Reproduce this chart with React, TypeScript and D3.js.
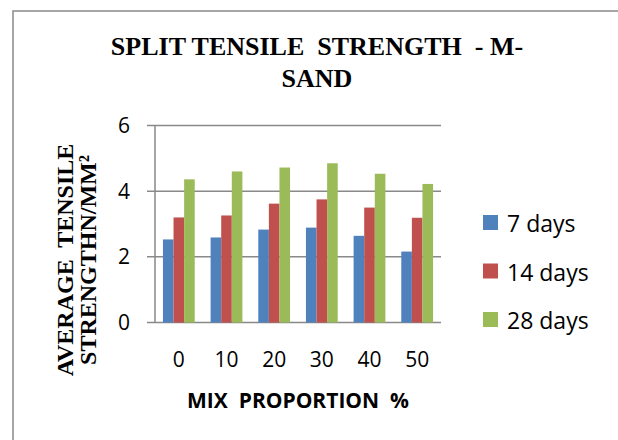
import React from "react";
import * as d3 from "d3";

const categories: string[] = ["0", "10", "20", "30", "40", "50"];
const seriesNames: string[] = ["7 days", "14 days", "28 days"];
const days7: number[] = [2.53, 2.59, 2.83, 2.89, 2.64, 2.16];
const days14: number[] = [3.2, 3.26, 3.62, 3.75, 3.5, 3.19];
const days28: number[] = [4.36, 4.6, 4.72, 4.85, 4.53, 4.22];
const yTicks: number[] = [0, 2, 4, 6];
const colors: string[] = ["#4F81BD", "#C0504D", "#9BBB59"];

const W = 618;
const H = 440;
const plot = { left: 155, right: 441, top: 125.5, bottom: 322.5 };

export default function App() {
  const series = [days7, days14, days28];
  const x0 = d3
    .scaleBand<string>()
    .domain(categories)
    .range([plot.left, plot.right])
    .paddingInner(1 / 3)
    .paddingOuter(1 / 6);
  const x1 = d3
    .scaleBand<string>()
    .domain(seriesNames)
    .range([0, x0.bandwidth()])
    .padding(0);
  const y = d3.scaleLinear().domain([0, 6]).range([plot.bottom, plot.top]);

  const sans = "'Open Sans', 'Liberation Sans', sans-serif";
  const serif = "'Liberation Serif', 'Times New Roman', serif";
  const grid = "#898989";

  return (
    <svg
      width={W}
      height={H}
      style={{ position: "absolute", left: 0, top: 0, background: "#fff" }}
    >
      <rect x={0} y={0} width={W} height={H} fill="#fff" />
      <rect x={13} y={11} width={700} height={600} fill="none" stroke={grid} strokeWidth={1.5} />

      {/* title */}
      <text
        x={317}
        y={55}
        textAnchor="middle"
        fontFamily={serif}
        fontWeight="bold"
        fontSize={26}
        style={{ whiteSpace: "pre" }}
      >
        {"SPLIT TENSILE  STRENGTH  - M-"}
      </text>
      <text x={317} y={87} textAnchor="middle" fontFamily={serif} fontWeight="bold" fontSize={26}>
        SAND
      </text>

      {/* gridlines */}
      {yTicks.map((t) => (
        <line
          key={"g" + t}
          x1={plot.left - 8}
          x2={plot.right}
          y1={y(t)}
          y2={y(t)}
          stroke={grid}
          strokeWidth={1.5}
        />
      ))}
      {/* y axis line */}
      <line x1={plot.left} x2={plot.left} y1={y(6)} y2={y(0)} stroke={grid} strokeWidth={1.5} />

      {/* bars */}
      {series.map((vals, si) =>
        vals.map((v, ci) => (
          <rect
            key={si + "-" + ci}
            x={(x0(categories[ci]) as number) + (x1(seriesNames[si]) as number)}
            y={y(v)}
            width={x1.bandwidth()}
            height={y(0) - y(v)}
            fill={colors[si]}
          />
        ))
      )}

      {/* y tick labels */}
      {yTicks.map((t) => (
        <text
          key={"yt" + t}
          x={130}
          y={y(t)}
          dy="0.36em"
          textAnchor="end"
          fontFamily={sans}
          fontSize={21}
          fill="#000"
        >
          {t}
        </text>
      ))}

      {/* x tick labels */}
      {categories.map((c) => (
        <text
          key={"xt" + c}
          x={(x0(c) as number) + x0.bandwidth() / 2}
          y={367}
          textAnchor="middle"
          fontFamily={sans}
          fontSize={21}
        >
          {c}
        </text>
      ))}

      {/* x axis title */}
      <text
        x={(plot.left + plot.right) / 2}
        y={408}
        textAnchor="middle"
        fontFamily={sans}
        fontWeight="bold"
        fontSize={21}
        style={{ whiteSpace: "pre" }}
      >
        {"MIX  PROPORTION  %"}
      </text>

      {/* y axis title */}
      <g transform="translate(73,260) rotate(-90)">
        <text
          x={0}
          y={0}
          textAnchor="middle"
          fontFamily={serif}
          fontWeight="bold"
          fontSize={24}
          style={{ whiteSpace: "pre" }}
        >
          {"AVERAGE  TENSILE"}
        </text>
      </g>
      <g transform="translate(96,260) rotate(-90)">
        <text x={0} y={0} textAnchor="middle" fontFamily={serif} fontWeight="bold" fontSize={24}>
          STRENGTHN/MM²
        </text>
      </g>

      {/* legend */}
      {seriesNames.map((s, i) => (
        <g key={"lg" + s} transform={`translate(483,${215 + i * 48.5})`}>
          <rect x={0} y={0} width={15} height={15} fill={colors[i]} />
          <text x={24} y={17} fontFamily={sans} fontSize={23}>
            {s}
          </text>
        </g>
      ))}
    </svg>
  );
}
